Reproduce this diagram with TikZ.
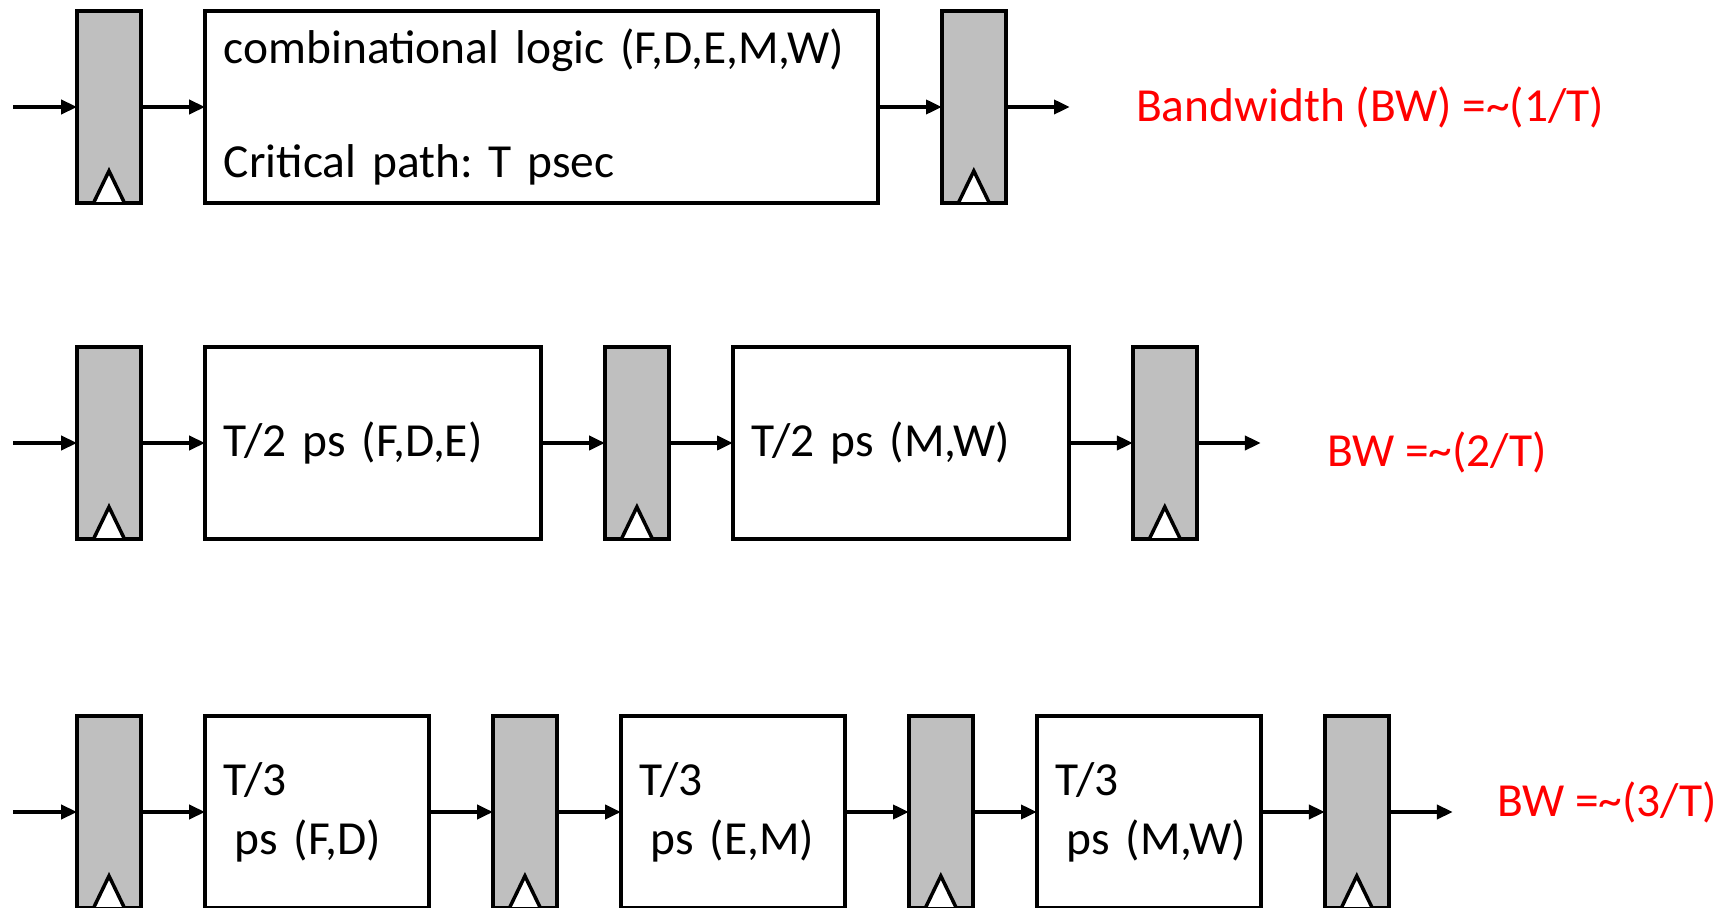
\documentclass[tikz,border=0pt]{standalone}
\usepackage{fontspec}
\setmainfont{Carlito}
\usepackage{xcolor}
\usetikzlibrary{arrows.meta,positioning,calc}
\definecolor{reggray}{RGB}{191,191,191}
\definecolor{bwred}{RGB}{255,0,0}
\frenchspacing

\begin{document}
\begin{tikzpicture}[x=0.02cm, y=-0.02cm, node distance=1.28cm,
    reg/.style={rectangle, draw, line width=2.4pt, outer sep=0pt, fill=reggray, minimum width=1.28cm, minimum height=3.84cm, inner sep=0pt},
    logic/.style={rectangle, draw, line width=2.4pt, outer sep=0pt, minimum height=3.84cm, inner xsep=0.38cm, inner ysep=0pt, align=left, font=\fontsize{27}{33.5}\selectfont},
    bw/.style={text=bwred, inner sep=0pt, anchor=west, font=\fontsize{27}{33}\selectfont},
    clk/.style={draw, fill=white, line width=2pt, line join=miter},
    arrow/.style={-{Triangle[length=9pt, width=8pt]}, line width=2pt}]
  \useasboundingbox (0,0) rectangle (1728,908);

  % one stage
  \node[reg] (r1a) at (109,107) {};
  \node[logic, text width=12.7cm, right=of r1a] (c1) {combinational logic (F,D,E,M,W)\\[31pt]Critical path: T psec};
  \node[reg, right=of c1] (r1b) {};
  \coordinate[left=of r1a] (i1);
  \coordinate[right=of r1b] (o1);
  \node[bw, right=1.32cm of o1] (bw1) {Bandwidth (BW) =\textasciitilde(1/T)};
  \draw[arrow] (i1) -- (r1a);
  \draw[arrow] (r1a) -- (c1);
  \draw[arrow] (c1) -- (r1b);
  \draw[arrow] (r1b) -- (o1);

  % two stages
  \node[reg] (r2a) at (109,443) {};
  \node[logic, text width=5.96cm, right=of r2a] (c2a) {T/2 ps (F,D,E)};
  \node[reg, right=of c2a] (r2b) {};
  \node[logic, text width=5.96cm, right=of r2b] (c2b) {T/2 ps (M,W)};
  \node[reg, right=of c2b] (r2c) {};
  \coordinate[left=of r2a] (i2);
  \coordinate[right=of r2c] (o2);
  \node[bw, right=1.32cm of o2, yshift=-0.18cm] (bw2) {BW =\textasciitilde(2/T)};
  \draw[arrow] (i2) -- (r2a);
  \draw[arrow] (r2a) -- (c2a);
  \draw[arrow] (c2a) -- (r2b);
  \draw[arrow] (r2b) -- (c2b);
  \draw[arrow] (c2b) -- (r2c);
  \draw[arrow] (r2c) -- (o2);

  % three stages
  \node[reg] (r3a) at (109,812) {};
  \node[logic, text width=3.72cm, right=of r3a] (c3a) {T/3\\\mbox{\hspace*{0.23em}ps (F,D)}};
  \node[reg, right=of c3a] (r3b) {};
  \node[logic, text width=3.72cm, right=of r3b] (c3b) {T/3\\\mbox{\hspace*{0.23em}ps (E,M)}};
  \node[reg, right=of c3b] (r3c) {};
  \node[logic, text width=3.72cm, right=of r3c] (c3c) {T/3\\\mbox{\hspace*{0.23em}ps (M,W)}};
  \node[reg, right=of c3c] (r3d) {};
  \coordinate[left=of r3a] (i3);
  \coordinate[right=of r3d] (o3);
  \node[bw, right=0.88cm of o3, yshift=0.2cm] (bw3) {BW =\textasciitilde(3/T)};
  \draw[arrow] (i3) -- (r3a);
  \draw[arrow] (r3a) -- (c3a);
  \draw[arrow] (c3a) -- (r3b);
  \draw[arrow] (r3b) -- (c3b);
  \draw[arrow] (c3b) -- (r3c);
  \draw[arrow] (r3c) -- (c3c);
  \draw[arrow] (c3c) -- (r3d);
  \draw[arrow] (r3d) -- (o3);

  % clock inputs
  \foreach \r in {r1a,r1b,r2a,r2b,r2c,r3a,r3b,r3c,r3d}
    \draw[clk] ($(\r.south)+(-15,-1)$) -- ++(15,-31) -- ++(15,31);
\end{tikzpicture}
\end{document}
